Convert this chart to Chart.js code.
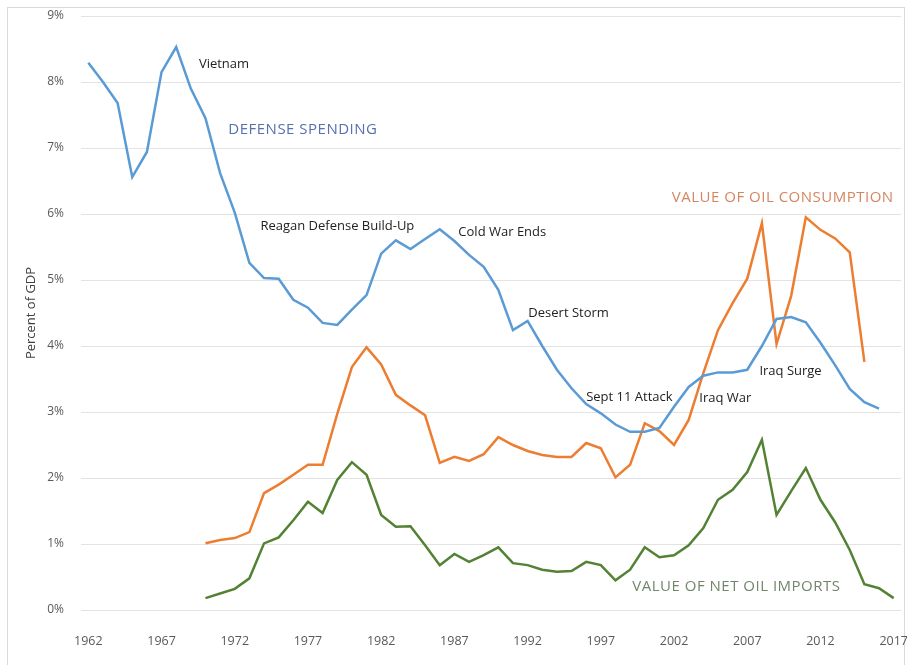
<!DOCTYPE html>
<html>
<head>
<meta charset="utf-8">
<script src="https://cdn.jsdelivr.net/npm/chart.js@4.4.1/dist/chart.umd.min.js"></script>
<style>
  html, body { margin: 0; padding: 0; background: #fff; }
  #wrap { position: relative; width: 907px; height: 665px; overflow: hidden; }
  #frame { position: absolute; left: 7px; top: 7px; width: 896px; height: 680px; border: 1px solid #d9d9d9; }
  #c { position: absolute; left: 0; top: 0; }
</style>
</head>
<body>
<div id="wrap">
  <div id="frame"></div>
  <canvas id="c" width="907" height="665"></canvas>
</div>
<script>
'use strict';

// ── Data (percent of GDP) ────────────────────────────────────────────────────
const YEARS = [
  1962, 1963, 1964, 1965, 1966, 1967, 1968, 1969, 1970, 1971,
  1972, 1973, 1974, 1975, 1976, 1977, 1978, 1979, 1980, 1981,
  1982, 1983, 1984, 1985, 1986, 1987, 1988, 1989, 1990, 1991,
  1992, 1993, 1994, 1995, 1996, 1997, 1998, 1999, 2000, 2001,
  2002, 2003, 2004, 2005, 2006, 2007, 2008, 2009, 2010, 2011,
  2012, 2013, 2014, 2015, 2016, 2017,
];

const DEFENSE = [
  8.29, 8.00, 7.68, 6.56, 6.94, 8.15, 8.53, 7.90, 7.45, 6.62,
  6.02, 5.26, 5.03, 5.02, 4.70, 4.58, 4.35, 4.32, 4.55, 4.77,
  5.40, 5.60, 5.47, 5.62, 5.77, 5.59, 5.38, 5.20, 4.85, 4.24,
  4.38, 4.00, 3.64, 3.36, 3.12, 2.98, 2.81, 2.70, 2.70, 2.76,
  3.08, 3.38, 3.55, 3.60, 3.60, 3.64, 4.00, 4.41, 4.44, 4.36,
  4.05, 3.71, 3.35, 3.15, 3.05, null,
];

const OIL_CONSUMPTION = [
  null, null, null, null, null, null, null, null, 1.01, 1.06,
  1.09, 1.18, 1.77, 1.90, 2.05, 2.20, 2.20, 2.97, 3.68, 3.98,
  3.72, 3.26, 3.10, 2.95, 2.23, 2.32, 2.26, 2.36, 2.62, 2.50,
  2.41, 2.35, 2.32, 2.32, 2.53, 2.45, 2.01, 2.20, 2.83, 2.71,
  2.50, 2.88, 3.59, 4.24, 4.65, 5.02, 5.86, 4.03, 4.76, 5.95,
  5.76, 5.63, 5.42, 3.76, null, null,
];

const NET_OIL_IMPORTS = [
  null, null, null, null, null, null, null, null, 0.18, 0.25,
  0.32, 0.48, 1.01, 1.10, 1.36, 1.64, 1.47, 1.97, 2.24, 2.05,
  1.44, 1.26, 1.27, 0.98, 0.68, 0.85, 0.73, 0.83, 0.95, 0.71,
  0.68, 0.61, 0.58, 0.59, 0.73, 0.68, 0.45, 0.61, 0.95, 0.80,
  0.83, 0.98, 1.24, 1.67, 1.82, 2.09, 2.58, 1.44, 1.80, 2.15,
  1.67, 1.33, 0.91, 0.39, 0.33, 0.18,
];

const Y_TICKS = [0, 1, 2, 3, 4, 5, 6, 7, 8, 9];

// Callout text, anchored at its left edge on (year, value)
const NOTES = [
  { text: 'Vietnam',                   year: 1969.55, value: 8.27, kind: 'event' },
  { text: 'Reagan Defense Build-Up',   year: 1973.75, value: 5.82, kind: 'event' },
  { text: 'Cold War Ends',             year: 1987.27, value: 5.73, kind: 'event' },
  { text: 'Desert Storm',              year: 1992.05, value: 4.50, kind: 'event' },
  { text: 'Sept 11 Attack',            year: 1996.00, value: 3.23, kind: 'event' },
  { text: 'Iraq War',                  year: 2003.73, value: 3.21, kind: 'event' },
  { text: 'Iraq Surge',                year: 2007.83, value: 3.62, kind: 'event' },
  { text: 'DEFENSE SPENDING',          year: 1971.56, value: 7.27, kind: 'defense' },
  { text: 'VALUE OF OIL CONSUMPTION',  year: 2001.85, value: 6.24, kind: 'consumption' },
  { text: 'VALUE OF NET OIL IMPORTS',  year: 1999.15, value: 0.36, kind: 'imports' },
];

const COLORS = {
  defense:     '#5b9bd5',
  consumption: '#ed7d31',
  imports:     '#548235',
  grid:        '#e3e3e3',
  tick:        '#595959',
};

const NOTE_STYLE = {
  event:       { font: '13px "Open Sans"', color: '#222222', spacing: '0px' },
  defense:     { font: '15px "Open Sans"', color: '#5670b0', spacing: '0.5px' },
  consumption: { font: '15px "Open Sans"', color: '#d48660', spacing: '0.5px' },
  imports:     { font: '15px "Open Sans"', color: '#71866b', spacing: '0.5px' },
};

// ── Callout plugin: places text through the chart's own scales ───────────────
const notesPlugin = {
  id: 'notes',
  afterDatasetsDraw(chart) {
    const { ctx, scales: { x, y } } = chart;
    ctx.save();
    ctx.textAlign = 'left';
    ctx.textBaseline = 'middle';
    NOTES.forEach(n => {
      const st = NOTE_STYLE[n.kind];
      ctx.font = st.font;
      ctx.fillStyle = st.color;
      ctx.letterSpacing = st.spacing;
      ctx.fillText(n.text, x.getPixelForValue(n.year - YEARS[0]), y.getPixelForValue(n.value));
    });
    ctx.restore();
  },
};

function lineSet(label, data, color) {
  return {
    label,
    data,
    borderColor: color,
    backgroundColor: color,
    borderWidth: 2.5,
    pointRadius: 0,
    tension: 0,
    fill: false,
    spanGaps: false,
  };
}

new Chart(document.getElementById('c').getContext('2d'), {
  type: 'line',
  data: {
    labels: YEARS,
    datasets: [
      lineSet('Defense spending', DEFENSE, COLORS.defense),
      lineSet('Value of oil consumption', OIL_CONSUMPTION, COLORS.consumption),
      lineSet('Value of net oil imports', NET_OIL_IMPORTS, COLORS.imports),
    ],
  },
  options: {
    responsive: false,
    animation: false,
    devicePixelRatio: 1,
    layout: { autoPadding: false, padding: { top: 16, right: 6, bottom: 0, left: 0 } },
    plugins: {
      legend: { display: false },
      tooltip: { enabled: false },
    },
    scales: {
      x: {
        type: 'category',
        offset: true,
        grid: { display: false },
        border: { display: false },
        ticks: {
          autoSkip: false,
          maxRotation: 0,
          padding: 16,
          color: COLORS.tick,
          font: { family: 'Open Sans', size: 12.5 },
          callback: (v, i) => (i % 5 === 0 ? YEARS[i] : ''),
        },
        // fixed height; drop the side padding reserved for the end labels
        afterFit: s => { s.height = 55; s.paddingLeft = 0; s.paddingRight = 0; },
      },
      y: {
        min: 0,
        max: 9,
        afterBuildTicks: s => { s.ticks = Y_TICKS.map(v => ({ value: v })); },
        grid: { color: COLORS.grid, drawTicks: false, lineWidth: 1 },
        border: { display: false },
        ticks: {
          padding: 17,
          color: COLORS.tick,
          font: { family: 'Open Sans', size: 12 },
          callback: v => v + '%',
        },
        title: {
          display: true,
          text: 'Percent of GDP',
          color: '#404040',
          font: { family: 'Open Sans', size: 13 },
          padding: { top: 23, bottom: 0 },
        },
        afterFit: s => { s.width = 81; s.paddingTop = 0; s.paddingBottom = 0; },
      },
    },
  },
  plugins: [notesPlugin],
});
</script>
</body>
</html>
